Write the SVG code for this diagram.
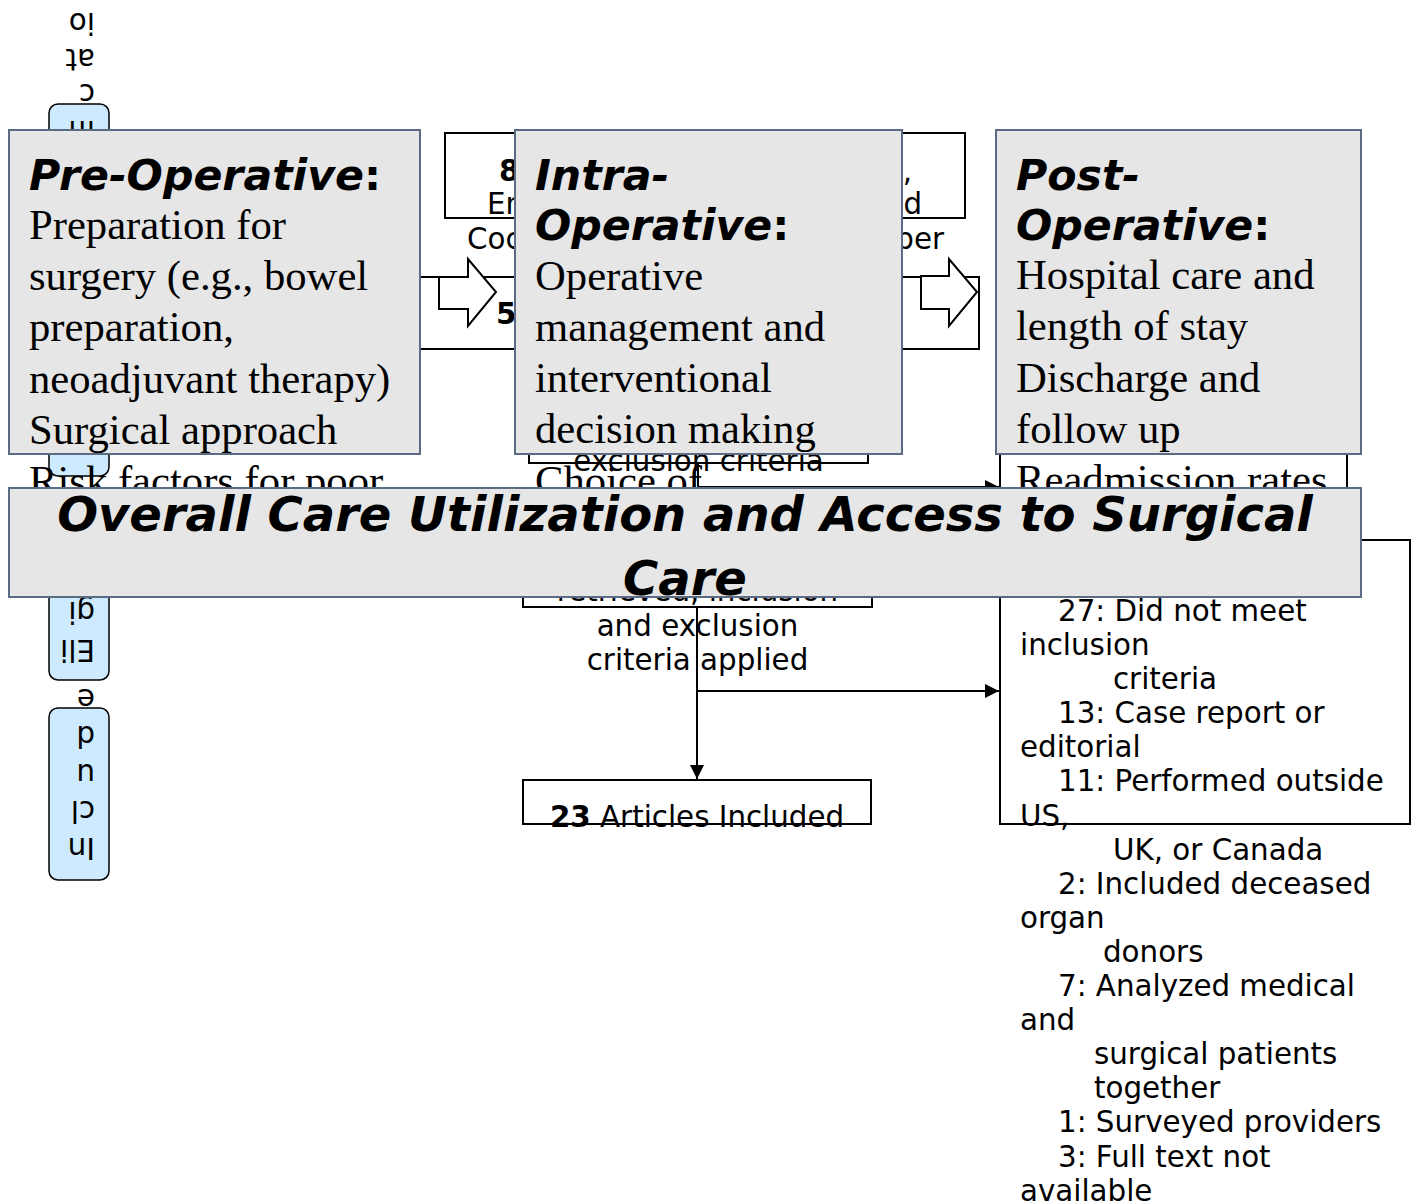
<svg xmlns="http://www.w3.org/2000/svg" width="1421" height="1203" viewBox="0 0 1421 1203">
  <style>
    .stage rect { fill: #cdeafe; stroke: #000; stroke-width: 1.5; }
    .stage text, .pt { font-family: "DejaVu Sans", "Noto Sans", sans-serif; font-size: 29.33px; fill: #000; }
    .box { fill: #fff; stroke: #000; stroke-width: 2; }
    .b { font-weight: bold; }
    .mid { text-anchor: middle; }
    .end { text-anchor: end; }
    .conn path { stroke: #000; stroke-width: 2; fill: none; }
    .panel { fill: #e6e6e6; stroke: #5b6b84; stroke-width: 2; }
    .hd { font-family: "DejaVu Sans", "Noto Sans", sans-serif; font-size: 42.67px; font-weight: bold; font-style: italic; fill: #000; }
    .hd .up { font-style: normal; }
    .bd { font-family: "Liberation Serif", "Times New Roman", serif; font-size: 42.67px; fill: #000; }
    .big { font-family: "DejaVu Sans", "Noto Sans", sans-serif; font-size: 48px; font-weight: bold; font-style: italic; fill: #000; text-anchor: middle; }
    .blk { fill: #fff; stroke: #000; stroke-width: 2; stroke-linejoin: miter; }
  </style>
  <defs>
    <marker id="ah" markerUnits="userSpaceOnUse" viewBox="0 0 14 14" refX="14" refY="7" markerWidth="14" markerHeight="14" orient="auto">
      <path d="M0,0 L14,7 L0,14 z" fill="#000"/>
    </marker>
  </defs>

  <!-- stage labels along the left edge (text turned upside down) -->
  <g id="stage-identification" class="stage">
    <rect x="49" y="104" width="60" height="200" rx="9"/>
    <text x="95" y="121" transform="rotate(180 95 121)">ifi</text>
    <text x="95" y="84" transform="rotate(180 95 84)">c</text>
    <text x="95" y="49" transform="rotate(180 95 49)">at</text>
    <text x="95" y="13" transform="rotate(180 95 13)">io</text>
  </g>
  <g id="stage-screening" class="stage">
    <rect x="49" y="320" width="60" height="156" rx="9"/>
  </g>
  <g id="stage-eligibility" class="stage">
    <rect x="49" y="492" width="60" height="188" rx="9"/>
    <text x="95" y="640" transform="rotate(180 95 640)">Eli</text>
    <text x="95" y="602" transform="rotate(180 95 602)">gi</text>
  </g>
  <g id="stage-included" class="stage">
    <rect x="49" y="708" width="60" height="172" rx="9"/>
    <text x="95" y="838" transform="rotate(180 95 838)">In</text>
    <text x="95" y="801" transform="rotate(180 95 801)">cl</text>
    <text x="95" y="764" transform="rotate(180 95 764)">u</text>
    <text x="95" y="726" transform="rotate(180 95 726)">d</text>
    <text x="95" y="689" transform="rotate(180 95 689)">e</text>
  </g>

  <!-- flow boxes -->
  <g id="box-search">
    <rect class="box" x="445" y="133" width="520" height="85"/>
    <text class="pt b" x="499" y="181">8</text>
    <text class="pt end" x="912" y="181">,</text>
    <text class="pt" x="487" y="214">Em</text>
    <text class="pt end" x="922" y="214">d</text>
    <text class="pt" x="467" y="249">Coc</text>
    <text class="pt end" x="944" y="249">ber</text>
  </g>
  <g id="box-dedup">
    <rect class="box" x="400" y="277" width="579" height="72"/>
    <text class="pt b" x="496" y="324">5</text>
  </g>
  <g id="box-screen">
    <rect class="box" x="529" y="380" width="339" height="83"/>
    <text class="pt mid" x="698.5" y="471">exclusion criteria</text>
  </g>
  <g id="box-excluded-screen">
    <rect class="box" x="1000" y="400" width="347" height="150"/>
  </g>
  <g id="box-fulltext">
    <rect class="box" x="523" y="540" width="349" height="67"/>
    <text class="pt mid" x="697.5" y="601">retrieved, inclusion</text>
    <text class="pt mid" x="697.5" y="636">and exclusion</text>
    <text class="pt mid" x="697.5" y="670">criteria applied</text>
  </g>
  <g id="box-excluded-fulltext">
    <rect class="box" x="1000" y="540" width="410" height="284"/>
    <text class="pt" x="1058" y="621">27: Did not meet</text>
    <text class="pt" x="1020" y="655">inclusion</text>
    <text class="pt" x="1113" y="689">criteria</text>
    <text class="pt" x="1058" y="723">13: Case report or</text>
    <text class="pt" x="1020" y="757">editorial</text>
    <text class="pt" x="1058" y="791">11: Performed outside</text>
    <text class="pt" x="1020" y="826">US,</text>
    <text class="pt" x="1113" y="860">UK, or Canada</text>
    <text class="pt" x="1058" y="894">2: Included deceased</text>
    <text class="pt" x="1020" y="928">organ</text>
    <text class="pt" x="1103" y="962">donors</text>
    <text class="pt" x="1058" y="996">7: Analyzed medical</text>
    <text class="pt" x="1020" y="1030">and</text>
    <text class="pt" x="1094" y="1064">surgical patients</text>
    <text class="pt" x="1094" y="1098">together</text>
    <text class="pt" x="1058" y="1132">1: Surveyed providers</text>
    <text class="pt" x="1058" y="1167">3: Full text not</text>
    <text class="pt" x="1020" y="1201">available</text>
  </g>
  <g id="box-included">
    <rect class="box" x="523" y="780" width="348" height="44"/>
    <text class="pt mid" x="697" y="827"><tspan class="b">23</tspan> Articles Included</text>
  </g>

  <!-- connectors -->
  <g id="connectors" class="conn">
    <path d="M698,463 V540"/>
    <path d="M698,487 H999" marker-end="url(#ah)"/>
    <path d="M697,607 V779" marker-end="url(#ah)"/>
    <path d="M697,691 H999" marker-end="url(#ah)"/>
  </g>

  <!-- care-phase panels -->
  <g id="phase-pre">
    <rect class="panel" x="9" y="130" width="411" height="324"/>
    <text class="hd" x="29" y="190">Pre-Operative<tspan class="up">:</tspan></text>
    <text class="bd" x="29" y="239">Preparation for</text>
    <text class="bd" x="29" y="290">surgery (e.g., bowel</text>
    <text class="bd" x="29" y="341">preparation,</text>
    <text class="bd" x="29" y="393">neoadjuvant therapy)</text>
    <text class="bd" x="29" y="444">Surgical approach</text>
    <text class="bd" x="29" y="495">Risk factors for poor</text>
  </g>
  <g id="arrow-pre-intra">
    <polygon class="blk" points="439,277 468,277 468,259 496,292 468,326 468,309 439,309"/>
  </g>
  <g id="phase-intra">
    <rect class="panel" x="515" y="130" width="387" height="324"/>
    <text class="hd" x="535" y="190">Intra-</text>
    <text class="hd" x="535" y="240">Operative<tspan class="up">:</tspan></text>
    <text class="bd" x="535" y="290">Operative</text>
    <text class="bd" x="535" y="341">management and</text>
    <text class="bd" x="535" y="392">interventional</text>
    <text class="bd" x="535" y="443">decision making</text>
    <text class="bd" x="535" y="495">Choice of</text>
  </g>
  <g id="arrow-intra-post">
    <polygon class="blk" points="921,276 949,276 949,259 977,292 949,326 949,309 921,309"/>
  </g>
  <g id="phase-post">
    <rect class="panel" x="996" y="130" width="365" height="324"/>
    <text class="hd" x="1016" y="190">Post-</text>
    <text class="hd" x="1016" y="240">Operative<tspan class="up">:</tspan></text>
    <text class="bd" x="1016" y="289">Hospital care and</text>
    <text class="bd" x="1016" y="340">length of stay</text>
    <text class="bd" x="1016" y="392">Discharge and</text>
    <text class="bd" x="1016" y="443">follow up</text>
    <text class="bd" x="1016" y="494">Readmission rates</text>
  </g>
  <g id="phase-overall">
    <rect class="panel" x="9" y="488" width="1352" height="109"/>
    <text class="big" x="685" y="531">Overall Care Utilization and Access to Surgical</text>
    <text class="big" x="685" y="595">Care</text>
  </g>
</svg>
